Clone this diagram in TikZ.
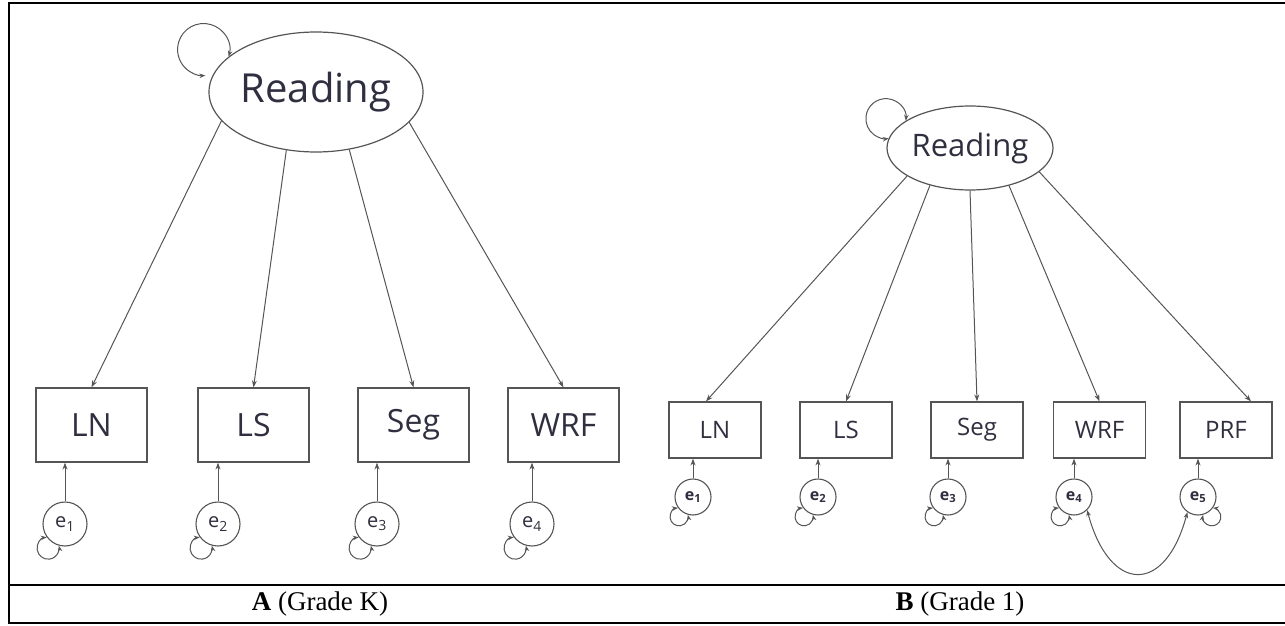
\documentclass[tikz,border=0pt]{standalone}
\usepackage{fontspec}
\setmainfont{Liberation Serif}
\newfontfamily\semfont{Open Sans}
\usetikzlibrary{arrows.meta,shapes.geometric}
\definecolor{semline}{HTML}{555555}
\definecolor{semtext}{HTML}{2F2F3F}
\tikzset{
latent/.style={ellipse, draw=semline, line width=1.2pt, inner sep=0pt, text=semtext},
observed/.style={rectangle, draw=semline, line width=1.2pt, inner sep=0pt, text=semtext},
resid/.style={circle, draw=semline, line width=1.1pt, inner sep=0pt, text=semtext},
loading/.style={draw=semline, line width=1pt, -{Stealth[length=7pt,width=5pt]}},
variance/.style={draw=semline, line width=1pt, {Stealth[length=6pt,width=4.5pt]}-{Stealth[length=6pt,width=4.5pt]}},
rule/.style={draw=black, line width=1.8pt}
}

\begin{document}
\begin{tikzpicture}[x=1pt,y=1pt]
  \useasboundingbox (0,0) rectangle (1285,625);
  % table
  \draw[rule, line width=2.6pt] (9,622) -- (1285,622);
  \draw[rule] (9,623) -- (9,2) -- (1285,2);
  \draw[rule] (9,40) -- (1285,40);

  % A (Grade K)
  \node[latent, minimum width=214pt, minimum height=120pt,
        font=\semfont\fontsize{40}{40}\selectfont] (readA) at (316,533) {Reading};
  \draw[variance] (readA.158) arc[start angle=-16, end angle=274, radius=26pt];
  \foreach \name/\lab/\x/\ang in {lnA/LN/91.5/197, lsA/LS/253.5/243, segA/Seg/413.5/300, wrfA/WRF/563.5/342}{
    \node[observed, minimum width=111pt, minimum height=74pt,
          font=\semfont\fontsize{32}{32}\selectfont] (\name) at (\x,200) {\lab};
    \draw[loading] (readA.\ang) -- (\name.north);
  }
  \foreach \i/\name/\x in {1/lnA/65, 2/lsA/218, 3/segA/377, 4/wrfA/532}{
    \node[resid, minimum size=44pt, font=\semfont\fontsize{20}{20}\selectfont] (eA\i) at (\x,101) {e\textsubscript{\i}};
    \draw[loading] (eA\i) -- (eA\i |- \name.south);
    \draw[variance] (eA\i.216) arc[start angle=97, end angle=373, radius=11pt];
  }
  \node[font=\fontsize{27}{27}\selectfont] (capA) at (320,21) {\textbf{A} (Grade K)};

  % B (Grade 1)
  \node[latent, minimum width=166pt, minimum height=84pt,
        font=\semfont\fontsize{31}{31}\selectfont] (readB) at (970,477) {Reading};
  \draw[variance] (readB.157) arc[start angle=-6, end angle=278, radius=20pt];
  \foreach \name/\lab/\x/\ang in {lnB/LN/715/204, lsB/LS/846/223, segB/Seg/977/270, wrfB/WRF/1099.5/316, prfB/PRF/1226/341}{
    \node[observed, minimum width=92pt, minimum height=56pt,
          font=\semfont\fontsize{24}{24}\selectfont] (\name) at (\x,195) {\lab};
  }
  \draw[loading] (readB.204) -- ([xshift=-9pt]lnB.north);
  \draw[loading] (readB.223) -- (lsB.north);
  \draw[loading] (readB.270) -- (segB.north);
  \draw[loading] (readB.316) -- (wrfB.north);
  \draw[loading] (readB.341) -- ([xshift=25pt]prfB.north);
  \foreach \i/\name/\x in {1/lnB/693, 2/lsB/818, 3/segB/948, 4/wrfB/1074, 5/prfB/1198}{
    \node[resid, minimum size=36pt, font=\semfont\bfseries\fontsize{16}{16}\selectfont] (eB\i) at (\x,128) {e\textsubscript{\i}};
    \draw[loading] (eB\i) -- (eB\i |- \name.south);
  }
  \foreach \i in {1,...,4}
    \draw[variance] (eB\i.216) arc[start angle=97, end angle=373, radius=9pt];
  \draw[variance] (eB5.286) arc[start angle=167, end angle=443, radius=9pt];
  \draw[variance] (eB4.-45) to[out=-75, in=-105, looseness=2.2] (eB5.235);
  \node[font=\fontsize{27}{27}\selectfont] (capB) at (960,21) {\textbf{B} (Grade 1)};
\end{tikzpicture}
\end{document}
